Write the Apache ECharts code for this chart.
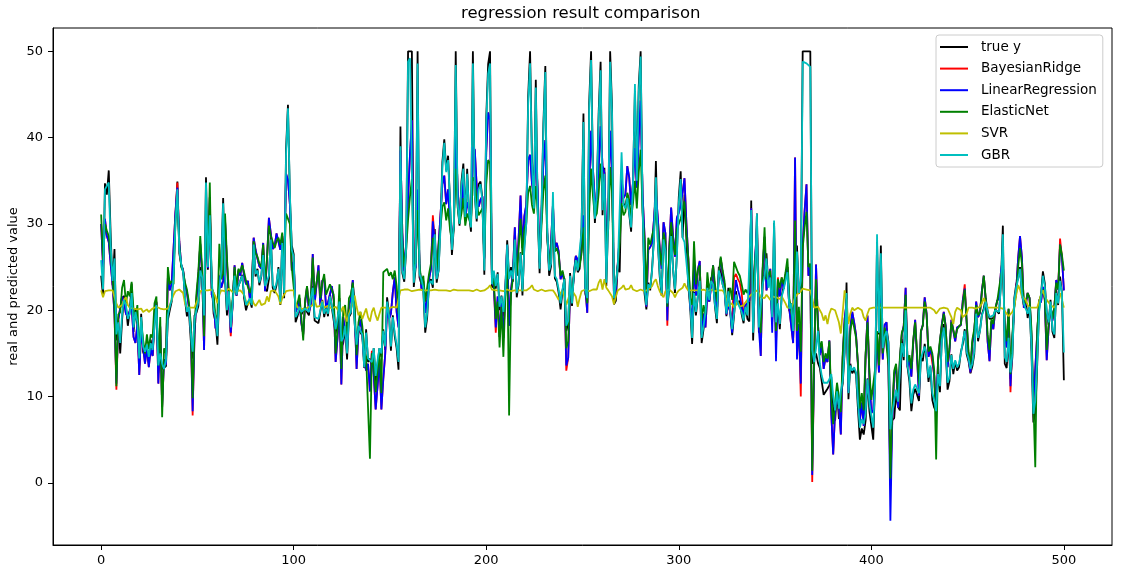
<!DOCTYPE html>
<html>
<head>
<meta charset="utf-8">
<script src="https://cdn.jsdelivr.net/npm/echarts@6/dist/echarts.min.js"></script>
<style>
html,body{margin:0;padding:0;background:#fff;}
#chart{width:1122px;height:578px;}
</style>
</head>
<body>
<div id="chart"></div>
<script>
const seriesNames = ['true y', 'BayesianRidge', 'LinearRegression', 'ElasticNet', 'SVR', 'GBR'];
const xTicks = [0, 100, 200, 300, 400, 500];
const yTicks = [0, 10, 20, 30, 40, 50];
// samples are spread evenly over the x span 0..500 (as in the reference)
const xStart = 0;
const xEnd = 500;

const trueY = [
24.0,21.6,34.7,33.4,36.2,28.7,22.9,27.1,16.5,18.9,
15.0,18.9,21.7,20.4,18.2,19.9,23.1,17.5,20.2,18.2,
13.6,19.6,15.2,14.5,15.6,13.9,16.6,14.8,18.4,21.0,
12.7,14.5,13.2,13.1,13.5,18.9,20.0,21.0,24.7,30.8,
34.9,26.6,25.3,24.7,21.2,19.3,20.0,16.6,14.4,19.4,
19.7,20.5,25.0,23.4,18.9,35.4,24.7,31.6,23.3,19.6,
18.7,16.0,22.2,25.0,33.0,23.5,19.4,22.0,17.4,20.9,
24.2,21.7,22.8,23.4,24.1,21.4,20.0,20.8,21.2,20.3,
28.0,23.9,24.8,22.9,23.9,26.6,22.5,22.2,23.6,28.7,
22.6,22.0,22.9,25.0,20.6,28.4,21.4,38.7,43.8,33.2,
27.5,26.5,18.6,19.3,20.1,19.5,19.5,20.4,19.8,19.4,
21.7,22.8,18.8,18.7,18.5,18.3,21.2,19.2,20.4,19.3,
22.0,20.3,20.5,17.3,18.8,21.4,15.7,16.2,18.0,14.3,
19.2,19.6,23.0,18.4,15.6,18.1,17.4,17.1,13.3,17.8,
14.0,14.4,13.4,15.6,11.8,13.8,15.6,14.6,17.8,15.4,
21.5,19.6,15.3,19.4,17.0,15.6,13.1,41.3,24.3,23.3,
27.0,50.0,50.0,50.0,22.7,25.0,50.0,23.8,23.8,22.3,
17.4,19.1,23.1,23.6,22.6,29.4,23.2,24.6,29.9,37.2,
39.8,36.2,37.9,32.5,26.4,29.6,50.0,32.0,29.8,34.9,
37.0,30.5,36.4,31.1,29.1,50.0,33.3,30.3,34.6,34.9,
32.9,24.1,42.3,48.5,50.0,22.6,24.4,22.5,24.4,20.0,
21.7,19.3,22.4,28.1,23.7,25.0,23.3,28.7,21.5,23.0,
26.7,21.7,27.5,30.1,44.8,50.0,37.6,31.6,46.7,31.5,
24.3,31.7,41.7,48.3,29.0,24.0,25.1,31.5,23.7,23.3,
22.0,20.1,22.2,23.7,17.6,18.5,24.3,20.5,24.5,26.2,
24.4,24.8,29.6,42.8,21.9,20.9,44.0,50.0,36.0,30.1,
33.8,43.1,48.8,31.0,36.5,22.8,30.7,50.0,43.5,20.7,
21.1,25.2,24.4,35.2,32.4,32.0,33.2,33.1,29.1,35.1,
45.4,35.4,46.0,50.0,32.2,22.0,20.1,23.2,22.3,24.8,
28.5,37.3,27.9,23.9,21.7,28.6,27.1,20.3,22.5,29.0,
24.8,22.0,26.4,33.1,36.1,28.4,33.4,28.2,22.8,20.3,
16.1,22.1,19.4,21.6,23.8,16.2,17.8,19.8,23.1,21.0,
23.8,23.1,20.4,18.5,25.0,24.6,23.0,22.2,19.3,22.6,
19.8,17.1,19.4,22.2,20.7,21.1,19.5,18.5,20.6,19.0,
18.7,32.7,16.5,23.9,31.2,17.5,17.2,23.1,24.5,26.6,
22.9,24.1,18.6,30.1,18.2,20.6,17.8,21.7,22.7,22.6,
25.0,19.9,20.8,16.8,21.9,27.5,21.9,23.1,50.0,50.0,
50.0,50.0,50.0,13.8,13.8,15.0,13.9,13.3,13.1,10.2,
10.4,10.9,11.3,12.3,8.8,7.2,10.5,7.4,10.2,11.5,
15.1,23.2,9.7,13.8,12.7,13.1,12.5,8.5,5.0,6.3,
5.6,7.2,12.1,8.3,8.5,5.0,11.9,27.9,17.2,27.5,
15.0,17.2,17.9,16.3,7.0,7.2,7.5,10.4,8.8,8.4,
16.7,14.2,20.8,13.4,11.7,8.3,10.2,10.9,11.0,9.5,
14.5,14.1,16.1,14.3,11.7,13.4,9.6,8.7,8.4,12.8,
10.5,17.1,18.4,15.4,10.8,11.8,14.9,12.6,14.1,13.0,
13.4,15.2,16.1,17.8,14.9,14.1,12.7,13.5,14.9,20.0,
16.4,17.7,19.5,20.2,21.4,19.9,19.0,19.1,19.1,20.1,
19.9,19.6,23.2,29.8,13.8,13.3,16.7,12.0,14.6,21.4,
23.0,23.7,25.0,21.8,20.6,21.2,19.1,20.6,15.2,7.0,
8.1,13.6,20.1,21.8,24.5,23.1,19.7,18.3,21.2,17.5,
16.8,22.4,20.6,23.9,22.0,11.9
];

const bayesianRidge = [
30.0,25.0,30.6,28.6,27.9,25.3,23.0,19.5,10.8,18.9,
19.0,21.6,20.9,19.6,19.3,19.3,20.5,16.9,16.2,18.4,
12.5,17.7,15.8,13.8,15.7,13.4,15.5,14.7,19.5,20.9,
11.5,18.1,8.8,14.3,13.7,23.8,22.3,23.1,22.9,31.4,
34.8,28.0,25.2,24.6,22.9,22.1,20.4,18.0,7.8,17.2,
21.3,24.0,27.7,24.1,15.4,31.2,24.9,33.1,21.8,21.1,
17.9,18.5,24.0,22.6,23.4,30.4,25.5,21.1,17.0,20.8,
25.2,21.7,24.6,24.0,25.5,24.0,23.0,23.4,21.3,22.4,
28.4,27.0,26.0,25.1,24.8,27.8,22.2,25.9,30.7,30.8,
27.1,27.4,28.9,29.1,27.0,28.6,24.7,35.8,35.1,32.3,
24.6,25.6,19.8,20.3,21.4,18.5,17.2,20.8,22.7,19.8,
20.6,26.5,20.8,20.7,25.2,20.4,23.4,23.7,20.3,20.9,
21.8,22.8,21.2,14.0,16.8,20.7,11.4,19.2,19.4,15.8,
20.6,21.3,23.5,19.7,13.2,17.6,18.9,17.3,14.0,13.0,
13.8,10.6,15.3,12.5,8.5,11.2,14.3,8.5,12.0,14.9,
20.1,19.0,19.6,22.1,23.8,19.8,18.0,38.5,29.0,24.5,
27.8,33.0,38.0,42.0,24.6,25.0,34.0,25.3,22.5,23.4,
19.7,21.2,23.6,24.8,31.0,28.0,24.0,27.6,31.0,34.6,
35.6,32.3,34.0,30.0,27.6,30.0,40.8,34.1,30.6,32.0,
35.0,30.4,32.5,31.7,30.2,38.9,38.6,34.3,32.0,32.8,
33.2,26.0,38.3,42.9,42.0,23.3,22.8,17.4,21.6,16.9,
20.9,16.8,22.0,27.5,18.2,22.4,24.3,29.6,24.0,28.4,
33.3,27.2,30.9,32.2,37.4,38.0,34.7,33.1,38.5,33.8,
25.5,31.0,37.2,39.7,29.0,24.8,28.0,32.3,27.2,27.8,
26.8,23.6,24.4,23.2,13.0,14.5,22.4,21.6,24.0,26.3,
25.8,25.2,27.0,30.6,22.5,19.7,34.5,40.8,36.3,32.5,
33.0,36.6,41.3,36.7,35.9,28.2,30.4,40.8,36.5,21.5,
22.4,25.4,28.6,35.3,33.0,33.4,36.7,35.4,32.2,34.8,
38.8,34.2,40.2,44.3,33.5,28.8,20.4,27.0,27.3,27.8,
30.5,33.6,30.7,27.2,24.8,30.2,28.9,18.2,27.1,31.9,
28.6,26.2,30.7,31.3,32.2,33.6,35.3,30.1,26.0,20.3,
19.0,25.2,21.7,24.7,25.7,17.2,19.6,18.0,22.0,21.0,
22.8,25.2,22.0,19.8,24.1,26.0,24.3,22.9,19.5,20.7,
20.9,18.8,23.8,24.2,23.6,23.2,22.0,19.4,20.6,20.7,
21.1,31.8,19.4,25.9,29.6,22.5,14.7,24.6,28.5,22.3,
22.4,24.8,19.0,26.6,16.0,23.8,21.6,23.8,22.5,24.1,
25.0,20.1,20.0,16.2,37.7,14.8,18.4,10.0,27.4,31.5,
34.6,24.0,25.0,0.1,13.5,25.3,18.5,14.8,16.0,13.2,
14.5,14.0,16.5,8.0,3.3,8.3,10.7,9.0,5.6,14.5,
19.0,20.8,10.5,18.0,19.8,18.6,17.1,13.6,7.2,9.3,
6.6,14.6,19.4,12.3,8.1,8.4,12.5,17.0,12.8,21.5,
14.3,18.3,18.6,13.4,-0.3,7.3,12.6,13.5,8.7,14.3,
17.2,18.2,22.6,13.4,14.4,12.3,16.3,18.9,14.5,10.1,
17.5,18.3,21.5,19.6,14.6,15.4,15.3,12.4,8.0,14.1,
16.3,18.4,19.8,18.2,13.4,15.3,18.9,19.0,16.4,18.0,
17.9,18.3,21.2,23.0,18.6,14.6,12.8,16.2,17.5,21.0,
19.2,19.7,22.3,24.0,21.2,16.4,14.1,18.7,17.8,20.0,
21.1,21.4,24.5,26.0,17.7,15.7,20.1,10.5,16.7,20.6,
22.4,26.0,28.6,26.1,20.3,20.6,22.0,21.4,17.0,9.2,
9.0,17.2,21.2,20.9,22.7,21.2,14.2,17.9,20.6,18.8,
20.3,23.5,22.4,28.3,26.1,22.3
];

const linearRegression = [
30.0,25.0,30.6,28.6,27.9,25.3,23.0,19.5,11.5,18.9,
19.0,21.6,20.9,19.6,19.3,19.3,20.5,16.9,16.2,18.4,
12.5,17.7,15.8,13.8,15.7,13.4,15.5,14.7,19.5,20.9,
11.5,18.1,8.8,14.3,13.7,23.8,22.3,23.1,22.9,31.4,
34.2,28.0,25.2,24.6,22.9,22.1,20.4,18.0,8.3,17.2,
21.3,24.0,27.7,24.1,15.4,31.2,24.9,33.1,21.8,21.1,
17.9,18.5,24.0,22.6,23.4,30.4,25.5,21.1,17.4,20.8,
25.2,21.7,24.6,24.0,25.5,24.0,23.0,23.4,21.3,22.4,
28.4,27.0,26.0,25.1,24.8,27.8,22.2,25.9,30.7,30.8,
27.1,27.4,28.9,29.1,27.0,28.6,24.7,35.8,35.1,32.3,
24.6,25.6,19.8,20.3,21.4,18.5,17.2,20.8,22.7,19.8,
20.6,26.5,20.8,20.7,25.2,20.4,23.4,23.7,20.3,20.9,
21.8,22.8,21.2,14.0,16.8,20.7,11.4,19.2,19.4,15.8,
20.6,21.3,23.5,19.7,13.2,17.6,18.9,17.3,14.0,13.0,
13.8,10.6,15.0,12.5,8.5,11.2,14.3,8.5,12.0,14.9,
20.1,19.0,19.6,22.1,23.8,19.8,18.0,38.5,29.0,24.5,
27.8,33.0,38.0,42.0,24.6,25.0,34.0,25.3,22.5,23.4,
19.7,21.2,23.6,24.8,30.3,28.0,24.0,27.6,31.0,34.6,
35.6,32.3,34.0,30.0,27.6,30.0,40.8,34.1,30.6,32.0,
35.0,30.4,32.5,31.7,30.2,38.9,38.6,34.3,32.0,32.8,
33.2,26.0,38.3,42.9,42.0,23.3,22.8,18.0,21.6,16.9,
20.9,16.8,22.0,27.5,18.2,22.4,24.3,29.6,24.0,28.4,
33.3,27.2,30.9,32.2,37.4,38.0,34.7,33.1,38.5,33.8,
25.5,31.0,37.2,39.7,29.0,24.8,28.0,32.3,27.2,27.8,
26.8,23.6,24.4,23.2,13.6,14.5,22.4,21.6,24.0,26.3,
25.8,25.2,27.0,31.0,22.5,19.7,34.5,40.8,36.3,32.5,
33.0,36.6,41.3,36.7,35.9,28.2,30.4,40.8,36.5,21.5,
22.4,25.4,28.6,35.3,33.0,33.4,36.7,35.4,32.2,34.8,
38.8,34.2,40.2,44.3,33.5,28.8,20.4,27.0,27.3,27.8,
30.5,33.6,30.7,27.2,24.8,30.2,28.9,18.8,27.1,31.9,
28.6,26.2,30.7,31.3,32.2,33.6,35.3,30.1,26.0,20.3,
19.0,25.2,21.7,24.7,25.7,17.2,19.6,18.0,22.0,21.0,
22.8,25.2,22.0,19.8,24.1,26.0,24.3,22.9,19.5,20.7,
19.9,17.4,20.9,23.5,22.4,21.6,20.5,19.4,20.6,20.7,
21.1,31.8,19.4,25.9,29.6,17.9,14.7,24.6,28.5,22.3,
22.4,24.8,17.4,26.3,14.1,22.7,21.6,23.6,22.5,24.1,
25.0,20.1,20.0,16.2,37.7,14.3,18.4,11.5,27.4,31.5,
34.6,24.0,25.0,0.9,13.5,25.3,18.5,14.8,16.0,13.2,
14.5,14.0,16.5,8.0,3.3,8.3,10.7,9.0,5.6,14.5,
19.0,20.8,10.5,18.0,19.8,18.6,17.1,13.6,7.2,9.3,
6.6,14.6,19.4,12.3,8.1,8.4,12.5,17.0,12.8,21.5,
14.3,18.3,18.6,13.4,-4.4,7.3,12.6,13.5,8.7,14.3,
17.2,18.2,22.6,13.4,14.4,12.3,16.3,18.9,14.5,10.1,
17.5,18.3,21.5,19.6,14.6,15.4,14.7,12.4,8.0,14.1,
16.3,18.4,19.8,18.2,13.4,15.3,18.9,19.0,16.4,18.0,
17.9,18.3,21.2,22.5,18.6,14.6,12.8,16.2,17.5,21.0,
19.2,19.7,22.3,24.0,21.2,16.4,14.1,18.7,17.8,20.0,
21.1,21.4,24.5,26.0,17.7,15.7,20.1,11.2,16.7,20.6,
22.4,26.0,28.6,26.1,20.3,20.6,22.0,21.4,17.0,9.2,
9.0,17.2,21.2,20.9,22.7,21.2,14.2,17.9,20.6,18.8,
20.3,23.5,22.4,27.6,26.1,22.3
];

const elasticNet = [
31.1,25.8,30.0,29.2,28.6,26.3,24.0,20.2,11.2,19.5,
19.8,22.6,23.5,20.8,22.2,21.6,23.3,20.0,19.0,20.6,
14.8,18.8,16.6,15.0,17.2,15.5,17.2,16.8,20.8,21.6,
13.6,19.2,7.6,15.6,15.0,25.0,23.0,23.4,23.0,30.5,
33.2,27.5,25.0,24.5,23.2,22.4,21.0,18.6,9.8,18.0,
22.0,24.5,28.6,24.6,17.0,30.8,25.5,34.8,22.6,22.0,
19.0,19.4,27.7,23.6,24.2,31.2,26.0,22.2,18.6,21.4,
25.0,22.6,24.8,24.4,25.2,24.4,23.4,23.6,22.0,22.8,
28.0,26.6,26.2,25.4,25.0,27.6,23.0,26.0,29.8,28.6,
28.5,27.2,28.0,28.4,27.6,29.0,25.4,31.2,31.4,30.0,
25.0,25.2,20.4,20.8,21.8,19.2,16.5,21.2,22.8,20.6,
21.4,26.1,21.8,21.6,24.6,21.4,23.2,24.2,21.8,21.6,
23.0,22.8,21.8,15.0,17.8,23.0,13.2,20.0,20.6,17.2,
21.4,21.8,23.2,20.4,14.8,18.6,19.8,18.2,15.4,14.6,
14.8,2.8,15.0,13.6,10.5,12.8,15.4,10.4,24.4,24.6,
24.8,24.0,24.4,23.6,24.6,22.8,19.5,35.8,28.0,25.0,
27.0,30.5,33.2,35.2,25.0,25.6,31.6,25.4,23.0,24.0,
21.0,22.6,24.2,25.4,28.4,27.6,24.6,27.4,29.6,32.0,
32.5,30.4,31.8,29.4,27.8,29.6,36.4,32.4,30.0,31.2,
33.0,29.8,31.2,30.6,29.8,35.4,35.0,32.6,31.0,31.4,
31.8,26.2,34.6,37.4,37.0,23.8,23.4,19.0,21.0,15.7,
20.4,14.6,21.6,26.4,7.8,21.8,23.8,28.0,24.0,27.2,
30.6,26.4,29.4,30.2,33.6,34.4,32.2,31.2,34.4,31.6,
25.6,29.8,33.8,35.6,28.6,25.0,27.4,30.6,26.8,27.2,
26.4,24.0,24.6,23.6,15.6,16.4,22.8,22.0,24.0,25.8,
25.4,25.0,26.6,29.6,23.0,20.8,31.4,36.4,33.2,30.8,
31.2,33.6,37.0,33.8,33.2,27.8,29.4,36.6,33.6,22.4,
23.0,25.2,27.8,32.4,31.0,31.4,33.6,32.8,30.6,32.4,
35.0,31.8,36.0,38.6,31.4,28.2,22.0,28.4,27.6,27.8,
29.6,31.4,29.6,27.0,25.2,29.0,28.0,20.4,27.0,30.2,
28.0,26.4,29.4,30.0,30.6,31.6,32.6,29.0,26.0,21.4,
20.6,28.0,23.0,24.6,25.2,18.8,20.6,19.4,24.4,22.2,
23.4,25.2,23.0,21.0,24.2,26.2,24.6,23.4,20.6,21.8,
22.6,21.2,25.6,25.0,24.4,24.0,23.0,21.8,22.4,22.0,
22.6,30.4,21.0,25.6,28.6,19.6,17.4,25.0,29.6,23.6,
23.4,24.6,19.8,26.0,17.6,23.6,22.6,23.8,23.0,24.4,
26.0,21.4,21.2,18.4,30.4,17.6,20.4,15.2,27.2,29.6,
31.4,25.0,25.4,1.4,14.6,23.6,18.0,15.6,16.4,14.0,
15.0,14.4,16.4,9.6,6.8,9.4,11.6,10.0,8.2,15.0,
18.4,20.0,11.6,17.6,19.0,18.0,16.8,13.8,8.6,10.4,
8.4,15.0,18.6,12.8,9.6,9.8,13.2,17.6,13.6,20.8,
15.0,18.0,18.2,13.6,0.5,8.6,13.0,13.8,9.6,14.6,
17.4,18.0,21.8,14.0,14.8,13.2,16.6,18.6,15.0,11.4,
17.6,18.2,21.0,19.4,15.2,15.8,15.0,13.0,2.7,14.4,
16.6,18.2,19.6,18.0,14.0,15.6,18.6,18.8,16.8,17.8,
18.0,18.4,20.8,22.4,18.8,15.2,13.6,16.6,17.8,20.6,
19.4,19.8,22.0,24.0,21.4,17.2,15.4,19.0,18.4,20.2,
21.0,21.2,24.0,25.2,18.2,16.4,20.2,12.6,17.2,20.4,
22.0,25.0,27.2,25.4,20.6,21.0,22.0,21.4,17.8,9.6,
1.8,17.6,21.0,21.0,22.4,21.4,15.4,18.4,20.6,19.0,
20.4,23.2,22.4,27.6,26.4,24.6
];

const svr = [
22.3,21.5,22.2,22.3,22.3,22.2,22.3,22.1,20.8,20.3,
20.4,20.6,21.2,21.5,20.6,20.3,20.4,20.2,20.3,20.1,
20.0,20.2,19.8,20.0,20.1,19.8,20.0,20.2,20.3,20.4,
20.6,20.2,20.0,20.1,20.0,20.2,20.6,21.2,21.8,22.2,
22.3,22.4,22.3,22.0,20.8,20.3,20.4,20.3,20.2,20.3,
20.5,21.4,22.2,22.4,22.3,22.5,22.3,22.2,22.4,22.2,
21.6,20.8,21.8,22.3,22.4,22.2,22.3,22.5,22.4,22.1,
22.3,22.2,22.4,22.3,22.2,21.8,21.0,20.6,20.8,21.4,
20.8,20.5,20.7,21.2,20.6,20.4,20.8,21.6,21.0,22.2,
22.4,22.3,22.2,21.6,20.7,21.4,21.6,22.2,22.3,22.3,
22.4,22.3,20.9,20.3,20.4,20.2,20.3,20.1,20.3,20.4,
20.2,20.6,21.2,20.4,20.2,20.5,21.1,20.3,20.1,20.5,
20.3,20.2,20.3,20.4,20.1,19.6,20.0,20.4,19.4,18.7,
19.6,20.2,20.8,21.7,20.4,19.4,19.8,19.0,19.6,20.2,
19.2,18.7,19.8,20.3,19.4,18.8,19.6,20.3,20.4,20.3,
20.3,20.2,20.3,20.4,20.3,20.3,20.3,22.3,22.5,22.4,
22.3,22.4,22.3,22.2,22.4,22.3,22.3,22.4,22.2,22.3,
22.4,22.3,22.2,22.3,22.3,22.4,22.3,22.3,22.2,22.3,
22.4,22.3,22.3,22.2,22.3,22.4,22.3,22.3,22.4,22.3,
22.2,22.3,22.4,22.3,22.3,22.2,22.3,22.4,22.3,22.2,
22.3,22.3,22.4,22.6,22.9,22.4,22.2,22.3,22.2,22.3,
22.3,22.2,22.3,22.4,22.3,22.2,22.3,22.3,22.4,22.3,
22.2,22.3,22.4,22.3,22.5,22.6,22.9,22.4,22.3,22.2,
22.3,22.4,22.3,22.2,22.3,22.3,22.4,22.3,22.0,21.6,
21.2,22.0,22.3,21.6,20.6,20.4,22.0,22.3,22.2,21.6,
20.4,21.4,22.2,22.3,22.4,22.3,22.2,22.3,22.4,22.3,
22.4,23.2,23.6,22.4,23.6,22.6,22.3,22.2,21.6,20.7,
21.6,22.3,22.4,22.6,22.9,22.4,22.3,22.5,22.9,22.4,
22.3,22.2,22.3,22.4,22.3,22.2,22.3,22.4,22.3,22.8,
23.3,23.6,22.8,22.2,21.8,21.5,22.2,22.3,22.4,22.3,
22.0,21.5,22.0,22.3,22.4,22.6,23.1,22.6,22.3,22.2,
22.3,22.4,22.3,22.2,22.3,22.3,22.4,22.3,22.2,22.3,
22.4,22.3,22.2,22.3,22.3,22.2,22.3,22.0,21.2,20.5,
20.4,20.8,20.3,20.6,21.0,20.4,20.2,20.6,20.8,21.2,
21.6,21.8,22.0,22.2,22.3,22.0,21.5,21.6,21.4,21.8,
21.5,21.2,21.6,21.8,21.5,21.4,21.3,21.6,21.2,20.8,
20.3,20.4,20.3,20.8,21.5,21.8,22.0,22.2,22.5,22.6,
22.4,22.4,22.3,21.4,20.3,20.3,20.4,20.0,19.6,18.8,
19.4,18.4,19.6,20.2,20.3,20.0,19.8,18.6,17.3,19.8,
22.3,21.2,18.4,19.6,20.3,20.0,20.2,20.3,20.1,20.0,
19.2,18.8,19.6,20.2,20.3,20.3,20.3,20.3,20.4,20.3,
20.3,20.3,20.3,20.3,20.3,20.3,20.4,20.3,20.3,20.3,
20.3,20.3,20.3,20.3,20.3,20.3,20.3,20.3,20.3,20.3,
20.3,20.3,20.3,20.3,20.3,20.3,20.2,20.0,19.6,19.8,
20.2,20.3,20.3,20.3,20.2,20.0,19.2,18.4,19.8,20.3,
20.3,20.0,19.2,19.0,19.6,20.3,20.3,20.3,20.3,20.2,
20.3,20.4,20.8,21.4,20.8,20.3,20.3,20.3,20.3,20.3,
20.3,20.3,20.3,20.2,20.0,19.6,19.3,19.4,19.8,20.4,
21.8,22.9,22.4,21.6,21.4,21.2,20.6,20.3,20.3,20.3,
20.3,20.3,21.0,21.8,22.3,21.6,21.2,21.0,20.6,20.4,
20.3,20.8,21.6,22.0,21.2,20.3
];

const gbr = [
25.8,22.4,34.0,33.8,34.8,27.6,23.4,26.0,17.2,18.6,
16.2,19.6,21.2,20.6,19.0,19.6,22.0,18.0,19.8,18.6,
14.4,19.2,15.8,15.2,16.0,14.6,16.2,15.4,18.2,20.6,
13.6,15.0,13.8,13.2,14.2,19.4,20.4,21.2,24.0,30.2,
34.0,27.0,25.4,24.4,21.6,19.8,20.4,17.4,15.2,19.0,
20.0,21.0,24.6,23.8,19.4,34.8,25.0,31.0,23.6,20.2,
19.2,17.0,22.4,24.6,32.4,24.0,20.0,22.2,18.0,20.8,
24.0,21.8,22.8,23.4,24.0,21.8,20.6,21.0,21.4,20.6,
27.6,24.2,24.6,23.2,24.0,26.4,22.8,22.6,24.0,28.2,
23.0,22.4,23.2,24.8,21.0,27.8,22.0,38.0,43.4,33.6,
27.0,26.2,19.2,19.6,20.4,19.8,19.6,20.2,20.0,19.8,
21.4,22.6,19.2,19.0,19.0,18.8,21.0,19.6,20.2,19.6,
21.6,20.6,20.6,17.8,19.0,21.0,16.4,16.8,18.2,15.0,
19.4,19.8,22.6,18.6,16.0,18.2,17.6,17.2,13.4,17.4,
14.4,14.6,14.0,15.6,12.4,14.2,15.6,15.0,17.6,15.8,
21.0,19.4,15.8,19.2,17.4,16.0,14.0,39.0,24.6,23.6,
27.2,48.8,49.2,49.0,23.2,25.4,48.6,24.2,23.6,22.6,
18.0,19.6,23.0,23.4,23.0,28.8,23.6,24.6,29.4,36.6,
39.4,36.0,37.4,32.6,27.0,29.8,48.4,32.4,30.0,34.4,
36.4,30.8,35.8,31.2,29.6,48.6,33.4,30.6,34.0,34.6,
32.6,24.6,41.6,47.4,48.6,23.0,24.6,22.8,24.2,20.4,
21.6,19.8,22.4,27.6,23.6,24.6,23.6,28.2,22.0,23.2,
26.6,22.2,27.2,30.0,44.0,48.6,37.2,31.8,45.8,31.6,
24.8,31.4,41.0,47.6,29.4,24.6,25.4,33.7,24.0,23.6,
22.4,20.8,22.4,23.6,18.2,18.8,24.0,20.8,24.2,25.8,
24.6,24.8,29.2,41.8,22.4,21.4,43.2,49.0,35.6,30.6,
33.4,42.4,47.8,31.6,35.8,23.2,30.6,48.8,42.8,21.4,
21.6,25.0,24.8,38.3,32.2,31.8,33.0,33.2,29.6,34.6,
46.2,35.0,45.2,49.4,32.4,22.6,20.6,23.0,22.6,24.6,
28.4,35.4,28.0,24.2,22.0,28.2,26.8,20.8,22.6,28.6,
24.8,22.4,26.2,32.4,35.2,28.4,27.9,28.0,23.2,20.8,
16.8,22.0,19.8,21.6,23.4,16.8,18.2,19.8,22.6,21.2,
23.4,23.0,20.6,19.0,24.6,24.4,23.0,22.2,19.6,22.2,
20.0,17.8,19.6,21.8,20.8,21.0,19.8,18.8,20.4,19.4,
19.2,31.6,17.4,23.6,31.2,18.0,17.8,23.0,24.0,26.0,
22.6,23.8,19.2,30.4,18.6,20.8,18.4,21.6,22.4,22.6,
24.4,20.2,20.8,17.6,21.8,26.8,22.0,23.4,48.8,49.0,
48.6,48.4,48.2,15.4,14.0,15.6,17.6,13.8,12.4,11.6,
11.4,11.6,12.0,12.6,10.0,8.4,10.6,8.6,10.6,11.8,
15.4,22.0,10.4,13.6,13.0,13.4,12.8,9.4,6.4,7.4,
6.8,8.0,12.0,9.2,9.0,6.4,11.6,28.8,17.4,26.6,
15.6,17.0,17.6,16.0,6.2,8.2,8.4,10.8,9.4,9.2,
16.2,14.6,20.0,13.6,12.2,9.2,10.8,11.4,11.6,10.4,
14.4,14.2,15.8,14.6,12.2,13.6,10.4,9.6,8.3,12.6,
11.2,16.6,18.0,15.4,11.6,12.2,14.8,13.2,14.2,13.4,
13.8,15.0,16.4,17.6,15.2,14.4,13.2,13.8,15.2,19.6,
16.8,17.6,19.4,20.0,21.0,19.8,19.2,19.2,19.4,20.0,
19.8,19.8,22.8,28.8,14.6,14.0,16.8,12.8,15.0,21.2,
22.6,23.6,24.8,22.0,20.8,21.0,19.6,20.4,15.8,8.0,
9.5,14.2,19.8,21.6,24.0,22.8,19.8,18.6,21.0,17.8,
17.2,22.0,20.8,23.4,22.0,15.1
];

const seriesValues = [trueY, bayesianRidge, linearRegression, elasticNet, svr, gbr];
const seriesColors = ['#000000', '#ff0000', '#0000ff', '#008000', '#bfbf00', '#00bfbf'];

const nPts = trueY.length;
const xAt = i => xStart + (xEnd - xStart) * i / (nPts - 1);

const chart = echarts.init(document.getElementById('chart'), null, { renderer: 'canvas' });
const FONT = 'DejaVu Sans';

const option = {
  animation: false,
  backgroundColor: '#ffffff',
  textStyle: { fontFamily: FONT, color: '#000' },
  title: {
    text: 'regression result comparison',
    left: 461, top: 5, padding: 0,
    textStyle: { fontFamily: FONT, fontSize: 16.5, fontWeight: 'normal', color: '#000' }
  },
  legend: {
    orient: 'vertical',
    left: 936, top: 35,
    padding: [5, 6, 5, 4],
    itemWidth: 28, itemHeight: 2, itemGap: 7.6,
    icon: 'rect',
    backgroundColor: 'rgba(255,255,255,0.8)',
    borderColor: '#cccccc', borderWidth: 1, borderRadius: 3,
    textStyle: { fontFamily: FONT, fontSize: 13.5, color: '#000', padding: [0, 0, 0, 8] },
    data: seriesNames
  },
  grid: {
    left: 53, right: 10, top: 28, bottom: 33,
    show: true, borderColor: '#000', borderWidth: 1, backgroundColor: 'transparent',
    containLabel: false,
    outerBoundsMode: 'none'
  },
  xAxis: {
    type: 'value',
    min: -25, max: 525,
    splitLine: { show: false },
    axisLine: { show: true, onZero: false, lineStyle: { color: '#000', width: 1 } },
    axisTick: { show: true, length: 5, lineStyle: { color: '#000' }, customValues: xTicks },
    axisLabel: { customValues: xTicks, margin: 9, fontFamily: FONT, fontSize: 13, color: '#000' }
  },
  yAxis: {
    type: 'value',
    min: -7.2, max: 52.7,
    name: 'real and predicted value',
    nameLocation: 'middle',
    nameGap: 33,
    nameMoveOverlap: false,
    nameTextStyle: { fontFamily: FONT, fontSize: 13, color: '#000' },
    splitLine: { show: false },
    axisLine: { show: true, onZero: false, lineStyle: { color: '#000', width: 1 } },
    axisTick: { show: true, length: 5, lineStyle: { color: '#000' }, customValues: yTicks },
    axisLabel: { customValues: yTicks, margin: 10, fontFamily: FONT, fontSize: 13, color: '#000' }
  },
  series: seriesNames.map((name, k) => ({
    name: name,
    type: 'line',
    data: seriesValues[k].map((v, i) => [xAt(i), v]),
    showSymbol: false,
    symbol: 'none',
    color: seriesColors[k],
    lineStyle: { color: seriesColors[k], width: 1.8 },
    z: 2 + k,
    silent: true
  }))
};
chart.setOption(option);
</script>
</body>
</html>
